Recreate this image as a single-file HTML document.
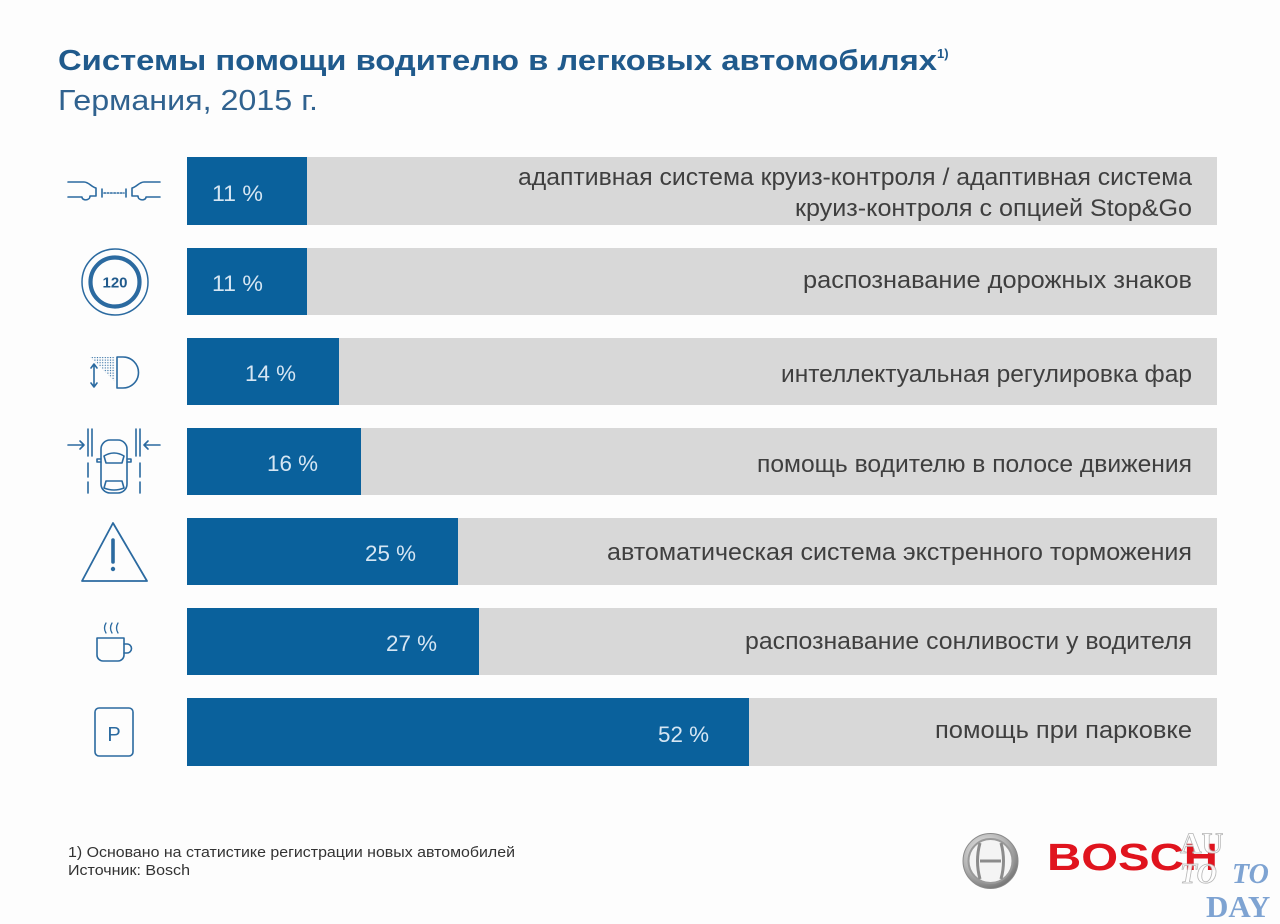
<!DOCTYPE html>
<html><head><meta charset="utf-8"><style>
html,body{margin:0;padding:0;background:#fdfdfd;}
svg{display:block;}
</style></head><body>
<svg width="1280" height="924" viewBox="0 0 1280 924" xmlns="http://www.w3.org/2000/svg" font-family="Liberation Sans, sans-serif">
<defs>
<pattern id="dots" width="2.6" height="2.6" patternUnits="userSpaceOnUse"><circle cx="1.3" cy="1.3" r="0.65" fill="#2b6aa0"/></pattern>
<radialGradient id="silver" cx="40%" cy="35%" r="70%"><stop offset="0" stop-color="#f2f2f2"/><stop offset="0.6" stop-color="#b5b5b5"/><stop offset="1" stop-color="#6e6e6e"/></radialGradient>
</defs>
<rect width="1280" height="924" fill="#fdfdfd"/>

<!-- Title -->
<text x="58" y="70" font-size="28.5" font-weight="bold" fill="#205a8c" textLength="879" lengthAdjust="spacingAndGlyphs">Системы помощи водителю в легковых автомобилях</text>
<text x="937" y="58" font-size="13" font-weight="bold" fill="#205a8c">1)</text>
<text x="58" y="110" font-size="29" fill="#30628f" textLength="260" lengthAdjust="spacingAndGlyphs">Германия, 2015 г.</text>

<!-- Bars -->
<g>
<rect x="187" y="157" width="1030" height="68" fill="#d8d8d8"/>
<rect x="187" y="157" width="120" height="68" fill="#0a619c"/>
<rect x="187" y="248" width="1030" height="67" fill="#d8d8d8"/>
<rect x="187" y="248" width="120" height="67" fill="#0a619c"/>
<rect x="187" y="338" width="1030" height="67" fill="#d8d8d8"/>
<rect x="187" y="338" width="152" height="67" fill="#0a619c"/>
<rect x="187" y="428" width="1030" height="67" fill="#d8d8d8"/>
<rect x="187" y="428" width="174" height="67" fill="#0a619c"/>
<rect x="187" y="518" width="1030" height="67" fill="#d8d8d8"/>
<rect x="187" y="518" width="271" height="67" fill="#0a619c"/>
<rect x="187" y="608" width="1030" height="67" fill="#d8d8d8"/>
<rect x="187" y="608" width="292" height="67" fill="#0a619c"/>
<rect x="187" y="698" width="1030" height="68" fill="#d8d8d8"/>
<rect x="187" y="698" width="562" height="68" fill="#0a619c"/>
</g>

<!-- Percent labels -->
<g font-size="22.5" fill="#d6e6f3" text-anchor="end">
<text x="263" y="201" textLength="51" lengthAdjust="spacingAndGlyphs">11 %</text>
<text x="263" y="291" textLength="51" lengthAdjust="spacingAndGlyphs">11 %</text>
<text x="296" y="381" textLength="51" lengthAdjust="spacingAndGlyphs">14 %</text>
<text x="318" y="471" textLength="51" lengthAdjust="spacingAndGlyphs">16 %</text>
<text x="416" y="561" textLength="51" lengthAdjust="spacingAndGlyphs">25 %</text>
<text x="437" y="651" textLength="51" lengthAdjust="spacingAndGlyphs">27 %</text>
<text x="709" y="742" textLength="51" lengthAdjust="spacingAndGlyphs">52 %</text>
</g>

<!-- Category labels -->
<g font-size="24.5" fill="#3f3f3f" text-anchor="end">
<text x="1192" y="185" textLength="674" lengthAdjust="spacingAndGlyphs">адаптивная система круиз-контроля / адаптивная система</text>
<text x="1192" y="216" textLength="397" lengthAdjust="spacingAndGlyphs">круиз-контроля с опцией Stop&amp;Go</text>
<text x="1192" y="288" textLength="389" lengthAdjust="spacingAndGlyphs">распознавание дорожных знаков</text>
<text x="1192" y="382" textLength="411" lengthAdjust="spacingAndGlyphs">интеллектуальная регулировка фар</text>
<text x="1192" y="472" textLength="435" lengthAdjust="spacingAndGlyphs">помощь водителю в полосе движения</text>
<text x="1192" y="560" textLength="585" lengthAdjust="spacingAndGlyphs">автоматическая система экстренного торможения</text>
<text x="1192" y="649" textLength="447" lengthAdjust="spacingAndGlyphs">распознавание сонливости у водителя</text>
<text x="1192" y="738" textLength="257" lengthAdjust="spacingAndGlyphs">помощь при парковке</text>
</g>

<!-- Icons -->
<g fill="none" stroke="#2b6aa0" stroke-width="1.6" stroke-linecap="round" stroke-linejoin="round">
<!-- ACC -->
<path d="M68,182 H84 C89,182 91,187 96,188 V196 H90 C90,201 82,201 82,197 H68"/>
<path d="M160,182 H144 C139,182 137,187 132,188 V196 H138 C138,201 146,201 146,197 H160"/>
<path d="M102,189 V197 M126,189 V197"/>
<path d="M104,193 H124" stroke-dasharray="1.5 1.8"/>
<!-- Sign -->
<circle cx="115" cy="282" r="33" stroke-width="1.5"/>
<circle cx="115" cy="282" r="24.5" stroke-width="4.2"/>
<!-- Headlight -->
<path d="M117,357 H123 A15.5,15.5 0 0 1 123,388 H117 Z"/>
<path d="M94,365 V386 M91,368 L94,364 L97,368 M91,383 L94,387 L97,383"/>
<!-- Lane -->
<path d="M68,445 H84 M80,441 L84,445 L80,449"/>
<path d="M160,445 H144 M148,441 L144,445 L148,449"/>
<path d="M88,429 V456 M92,429 V456 M136,429 V456 M140,429 V456"/>
<path d="M88,463 V477 M88,482 V493 M140,463 V477 M140,482 V493"/>
<rect x="101" y="440" width="26" height="53" rx="9"/>
<path d="M104,456 Q114,450 124,456 L122,463 H106 Z"/>
<path d="M106,481 H122 L124,488 Q114,492 104,488 Z"/>
<path d="M101,459 H97 V462 H101 M127,459 H131 V462 H127"/>
<!-- Warning -->
<path d="M113,523 L147,581 H82 Z" stroke-width="1.8"/>
<path d="M113,540 V562" stroke-width="3.6"/>
<!-- Cup -->
<path d="M97,638 H124 V655 A6,6 0 0 1 118,661 H103 A6,6 0 0 1 97,655 Z"/>
<path d="M124,644 H127 A4.5,4.5 0 0 1 127,653 H124"/>
<path d="M106,623 Q103,628 106,633 M112,623 Q109,628 112,633 M118,623 Q115,628 118,633" stroke-width="1.3"/>
<!-- P -->
<rect x="95" y="708" width="38" height="48" rx="4"/>
</g>
<polygon points="90,357 115,357 115,382" fill="url(#dots)"/>
<circle cx="113" cy="569" r="2.2" fill="#2b6aa0"/>
<text x="115" y="287.5" font-size="15" font-weight="bold" fill="#205a8c" text-anchor="middle">120</text>
<text x="114" y="741" font-size="20" fill="#2b6aa0" text-anchor="middle">P</text>

<!-- Footer -->
<g font-size="14.5" fill="#333">
<text x="68" y="857" textLength="447" lengthAdjust="spacingAndGlyphs">1) Основано на статистике регистрации новых автомобилей</text>
<text x="68" y="875" textLength="122" lengthAdjust="spacingAndGlyphs">Источник: Bosch</text>
</g>

<!-- Bosch logo -->
<circle cx="990.5" cy="861" r="27.5" fill="url(#silver)" stroke="#8a8a8a" stroke-width="1"/>
<circle cx="990.5" cy="861" r="22" fill="#f4f4f4" stroke="#9a9a9a" stroke-width="2"/>
<g fill="none" stroke="#8c8c8c" stroke-width="3">
<path d="M980,843 Q975,861 980,879 M1001,843 Q1006,861 1001,879 M980,861 H1001"/>
</g>
<text x="1047" y="870" font-size="38" font-weight="bold" fill="#e0141e" textLength="171" lengthAdjust="spacingAndGlyphs">BOSCH</text>

<!-- watermark -->
<g font-family="Liberation Serif, serif" font-weight="bold">
<text x="1180" y="853" font-size="30" fill="#ffffff" stroke="#b0b0b0" stroke-width="0.8" opacity="0.9">AU</text>
<text x="1180" y="883" font-size="28" font-style="italic" fill="#ffffff" stroke="#b0b0b0" stroke-width="0.8" opacity="0.9">TO</text>
<text x="1232" y="883" font-size="28" font-style="italic" fill="#7ea3d2">TO</text>
<text x="1206" y="917" font-size="31" fill="#7ea3d2">DAY</text>
</g>
</svg>
</body></html>
